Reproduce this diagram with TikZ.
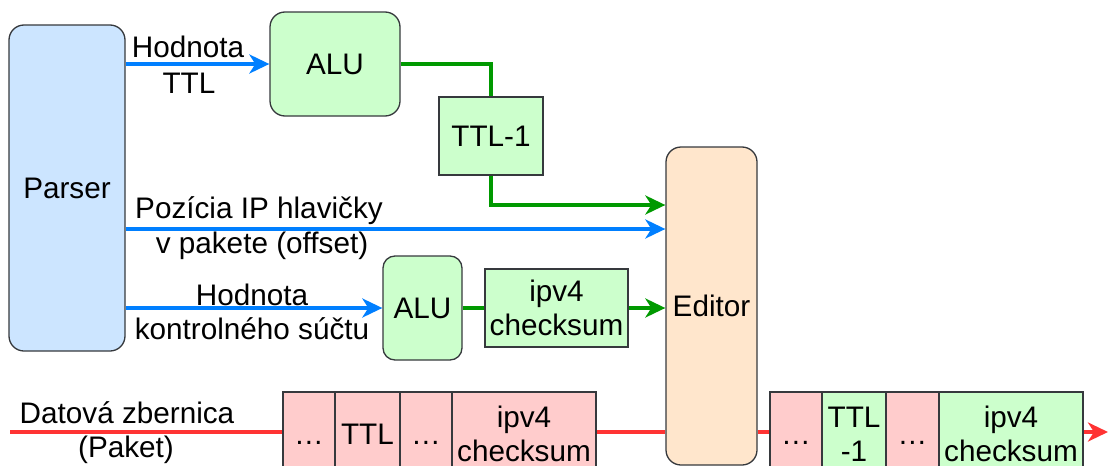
\documentclass[tikz,border=0pt]{standalone}
\usepackage{fontspec}
\setmainfont{Liberation Sans}
\usetikzlibrary{arrows.meta}
\definecolor{bord}{HTML}{36393D}
\definecolor{pblue}{HTML}{CCE5FF}
\definecolor{pgreen}{HTML}{CCFFCC}
\definecolor{ppink}{HTML}{FFCCCC}
\definecolor{porange}{HTML}{FFE6CC}
\definecolor{ablue}{HTML}{007FFF}
\definecolor{agreen}{HTML}{009900}
\definecolor{ared}{HTML}{FF3333}

\begin{document}
\begin{tikzpicture}[x=1pt,y=-1pt,
  lab/.style={font=\fontsize{29.7}{34}\selectfont, align=center, inner sep=0pt},
  blk/.style={lab, draw=bord, line width=1.3pt},
  wire/.style={line width=4pt},
  tip/.style={-{Stealth[length=20pt,width=19pt,inset=6pt]}},
  cell/.style={blk, minimum height=84pt, fill=ppink}
]
\useasboundingbox (0,0) rectangle (1109,466);
\clip (0,0) rectangle (1109,466);

% helper rows for the horizontal buses
\coordinate (yoff) at (0,229);
\coordinate (yttl) at (0,205);
\coordinate (busL) at (10,432);
\coordinate (busR) at (1108,432);

% packet cells before and after the editor
\node[cell, minimum width=52pt] (c1) at (309,434) {\vphantom{T}…};
\node[cell, minimum width=65pt] (c2) at (367.5,434) {TTL};
\node[cell, minimum width=52pt] (c3) at (426,434) {\vphantom{T}…};
\node[cell, minimum width=144pt] (c4) at (524,434) {ipv4\\checksum};

\node[cell, minimum width=52pt] (r1) at (796,434) {\vphantom{T}…};
\node[cell, minimum width=64pt, fill=pgreen] (r2) at (854,434) {TTL\\-1};
\node[cell, minimum width=53pt] (r3) at (912.5,434) {\vphantom{T}…};
\node[cell, minimum width=144pt, fill=pgreen] (r4) at (1011,434) {ipv4\\checksum};

% main blocks
\node[blk, rounded corners=15pt, fill=pblue, minimum width=116pt, minimum height=326pt] (parser) at (67,188) {Parser};
\node[blk, rounded corners=15pt, fill=pgreen, minimum width=130pt, minimum height=104pt] (alu1) at (335,64) {ALU};
\node[blk, fill=pgreen, minimum width=104pt, minimum height=78pt] (ttl1) at (491,136) {TTL-1};
\node[blk, rounded corners=15pt, fill=porange, minimum width=91pt, minimum height=318pt] (editor) at (711.5,306) {Editor};
\node[blk, rounded corners=12pt, fill=pgreen, minimum width=79pt, minimum height=104pt] (alu2) at (422.5,308) {ALU};
\node[blk, fill=pgreen, minimum width=143pt, minimum height=78pt] (chk) at (556.5,308) {ipv4\\checksum};

% red bus segments
\draw[wire, ared] (busL) -- (c1.west |- busL);
\draw[wire, ared] (c4.east |- busL) -- (editor.west |- busL);
\draw[wire, ared] (editor.east |- busL) -- (r1.west |- busL);
\draw[wire, ared, tip] (r4.east |- busR) -- (busR);

% blue signals from the parser
\draw[wire, ablue, tip] (parser.east |- alu1.west) -- (alu1.west);
\draw[wire, ablue, tip] (parser.east |- yoff) -- (editor.west |- yoff);
\draw[wire, ablue, tip] (parser.east |- alu2.west) -- (alu2.west);

% green results
\draw[wire, agreen] (alu1.east) -- (ttl1.north |- alu1.east) -- (ttl1.north);
\draw[wire, agreen, tip] (ttl1.south) -- (ttl1.south |- yttl) -- (editor.west |- yttl);
\draw[wire, agreen] (alu2.east) -- (chk.west);
\draw[wire, agreen, tip] (chk.east) -- (editor.west |- chk.east);

% labels
\node[lab, anchor=base] (l1a) at (188,57) {Hodnota};
\node[lab, anchor=base] (l1b) at (189,93) {TTL};
\node[lab, anchor=base] (l2a) at (259,218) {Pozícia IP hlavičky};
\node[lab, anchor=base] (l2b) at (262,253) {v pakete (offset)};
\node[lab, anchor=base] (l3a) at (252,305) {Hodnota};
\node[lab, anchor=base] (l3b) at (252,339) {kontrolného súčtu};
\node[lab, anchor=base] (l4a) at (127,423) {Datová zbernica};
\node[lab, anchor=base] (l4b) at (126,457) {(Paket)};
\end{tikzpicture}
\end{document}
